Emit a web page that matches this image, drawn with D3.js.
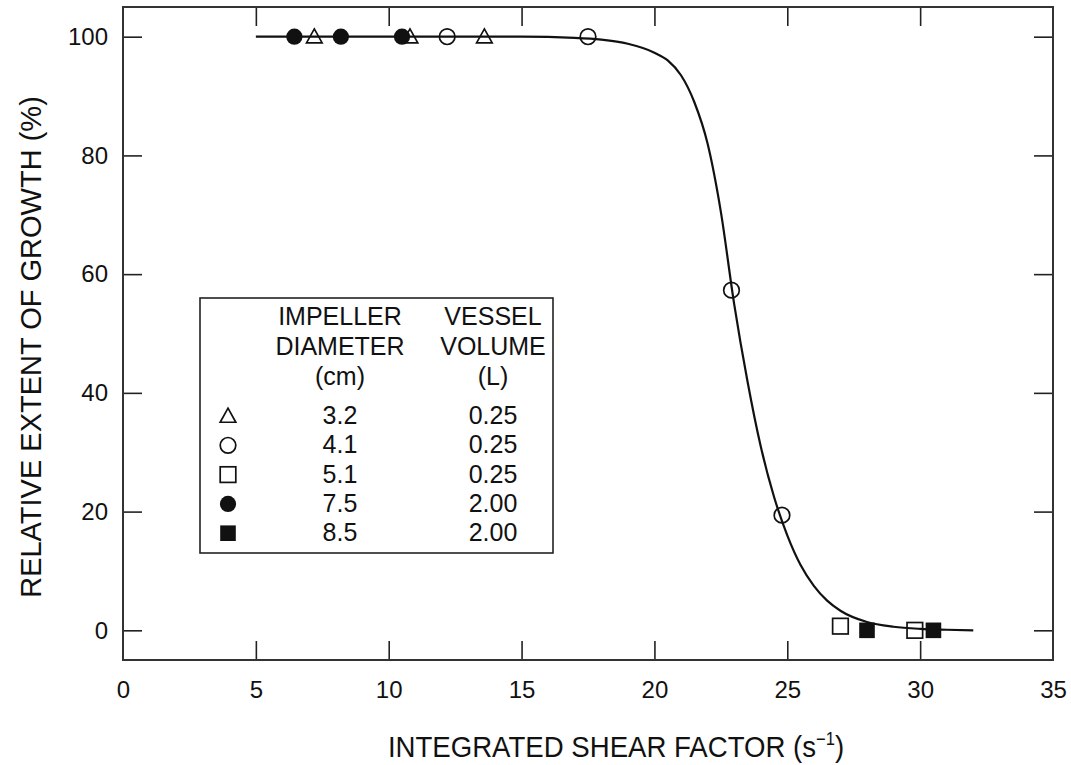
<!DOCTYPE html>
<html><head><meta charset="utf-8">
<script src="https://cdn.jsdelivr.net/npm/d3@7"></script>
<style>
body{margin:0;background:#fff;}
text{font-family:"Liberation Sans",Arial,sans-serif;fill:#111;}
</style></head><body>
<svg id="c" width="1071" height="765"></svg>
<script>
// ---- data ----
const xTicks = [0,5,10,15,20,25,30,35];
const yTicks = [0,20,40,60,80,100];
const triangleX = [7.2, 10.8, 13.6];
const triangleY = [100, 100, 100];
const openCircleX = [12.2, 17.5, 22.9, 24.8];
const openCircleY = [100, 100, 57.3, 19.4];
const openSquareX = [27.0, 29.8];
const openSquareY = [0.7, 0.0];
const filledCircleX = [6.45, 8.2, 10.5];
const filledCircleY = [100, 100, 100];
const filledSquareX = [28.0, 30.5];
const filledSquareY = [0.0, 0.0];
// fitted curve
const curveX = [5, 10, 15, 17, 18, 19, 20, 20.5, 21, 21.5, 22, 22.5, 23, 23.5, 24, 24.5, 25, 25.5, 26, 26.5, 27, 28, 29, 30, 31, 32];
const curveY = [100, 100, 100, 99.8, 99.5, 98.8, 97.3, 96.0, 93.5, 89.0, 82.0, 70.5, 55.0, 42.0, 31.0, 22.5, 16.0, 11.0, 7.5, 5.0, 3.3, 1.4, 0.6, 0.25, 0.1, 0.0];
// legend table
const legendHeader1 = ["IMPELLER", "DIAMETER", "(cm)"];
const legendHeader2 = ["VESSEL", "VOLUME", "(L)"];
const legendSymbols = ["triangle", "circle", "square", "filledCircle", "filledSquare"];
const legendDiameter = ["3.2", "4.1", "5.1", "7.5", "8.5"];
const legendVolume = ["0.25", "0.25", "0.25", "2.00", "2.00"];

const svg = d3.select("#c");
const L = 123, R = 1053, T = 7, B = 660;
const x = d3.scaleLinear().domain([0, 35]).range([L, R]);
const y = d3.scaleLinear().domain([-5, 105]).range([B, T]);
const ink = "#111";
const tickLen = 19;

// axes with inward ticks on all four sides
const axB = svg.append("g").attr("transform", `translate(0,${B})`)
  .call(d3.axisBottom(x).tickValues(xTicks).tickSize(-tickLen).tickPadding(21).tickSizeOuter(0));
const axT = svg.append("g").attr("transform", `translate(0,${T})`)
  .call(d3.axisTop(x).tickValues(xTicks).tickSize(-tickLen).tickFormat("").tickSizeOuter(0));
const axL = svg.append("g").attr("transform", `translate(${L},0)`)
  .call(d3.axisLeft(y).tickValues(yTicks).tickSize(-tickLen).tickPadding(15).tickSizeOuter(0));
const axR = svg.append("g").attr("transform", `translate(${R},0)`)
  .call(d3.axisRight(y).tickValues(yTicks).tickSize(-tickLen).tickFormat("").tickSizeOuter(0));
[axB, axT, axL, axR].forEach(a => {
  a.select(".domain").remove();
  a.selectAll(".tick line").attr("stroke", "#222").attr("stroke-width", 1.6);
  a.selectAll(".tick text").attr("font-size", 24).attr("fill", ink).attr("font-family", "Liberation Sans, Arial, sans-serif");
});
axB.selectAll(".tick").filter(d => d === 0 || d === 35).select("line").remove();
axT.selectAll(".tick").filter(d => d === 0 || d === 35).select("line").remove();
// frame
svg.append("rect").attr("x", L).attr("y", T).attr("width", R - L).attr("height", B - T)
  .attr("fill", "none").attr("stroke", "#333").attr("stroke-width", 2);

// curve
const pts = curveX.map((v, i) => [v, curveY[i]]);
svg.append("path").datum(pts)
  .attr("d", d3.line().x(d => x(d[0])).y(d => y(d[1])).curve(d3.curveMonotoneX))
  .attr("fill", "none").attr("stroke", ink).attr("stroke-width", 2.2);

// markers
function marker(g, type, cx, cy) {
  const s = 7.8;
  if (type === "triangle") {
    g.append("path").attr("d", `M${cx},${cy - s}L${cx + s},${cy + s * 0.8}L${cx - s},${cy + s * 0.8}Z`)
      .attr("fill", "none").attr("stroke", ink).attr("stroke-width", 1.7);
  } else if (type === "circle") {
    g.append("circle").attr("cx", cx).attr("cy", cy).attr("r", s)
      .attr("fill", "none").attr("stroke", ink).attr("stroke-width", 1.7);
  } else if (type === "square") {
    g.append("rect").attr("x", cx - s).attr("y", cy - s).attr("width", 2 * s).attr("height", 2 * s)
      .attr("fill", "none").attr("stroke", ink).attr("stroke-width", 1.7);
  } else if (type === "filledCircle") {
    g.append("circle").attr("cx", cx).attr("cy", cy).attr("r", s + 0.3).attr("fill", ink);
  } else if (type === "filledSquare") {
    g.append("rect").attr("x", cx - s).attr("y", cy - s).attr("width", 2 * s).attr("height", 2 * s).attr("fill", ink);
  }
}
const mg = svg.append("g");
const series = [
  ["triangle", triangleX, triangleY],
  ["circle", openCircleX, openCircleY],
  ["square", openSquareX, openSquareY],
  ["filledCircle", filledCircleX, filledCircleY],
  ["filledSquare", filledSquareX, filledSquareY]
];
series.forEach(([t, xs, ys]) => xs.forEach((v, i) => marker(mg, t, x(v), y(ys[i]))));

// legend
const lg = svg.append("g");
lg.append("rect").attr("x", 200).attr("y", 298).attr("width", 353).attr("height", 255)
  .attr("fill", "#fff").attr("stroke", "#222").attr("stroke-width", 1.6);
const c1 = 340, c2 = 493, symX = 228, fs = 25;
legendHeader1.forEach((t, i) => lg.append("text").attr("x", c1).attr("y", 325 + i * 30)
  .attr("text-anchor", "middle").attr("font-size", fs).text(t));
legendHeader2.forEach((t, i) => lg.append("text").attr("x", c2).attr("y", 325 + i * 30)
  .attr("text-anchor", "middle").attr("font-size", fs).text(t));
legendSymbols.forEach((t, i) => {
  const by = 424 + i * 29.3;
  marker(lg, t, symX, by - 8);
  lg.append("text").attr("x", c1).attr("y", by).attr("text-anchor", "middle").attr("font-size", fs).text(legendDiameter[i]);
  lg.append("text").attr("x", c2).attr("y", by).attr("text-anchor", "middle").attr("font-size", fs).text(legendVolume[i]);
});

// axis titles
const xt = svg.append("text").attr("text-anchor", "middle")
  .attr("transform", "translate(616,757) scale(0.92,1)")
  .attr("font-size", 30);
xt.append("tspan").text("INTEGRATED SHEAR FACTOR (s");
xt.append("tspan").attr("dy", -12).attr("font-size", 18).text("−1");
xt.append("tspan").attr("dy", 12).text(")");
svg.append("text").attr("transform", "translate(41,347) rotate(-90)").attr("text-anchor", "middle")
  .attr("font-size", 29).text("RELATIVE EXTENT OF GROWTH (%)");
</script>
</body></html>
